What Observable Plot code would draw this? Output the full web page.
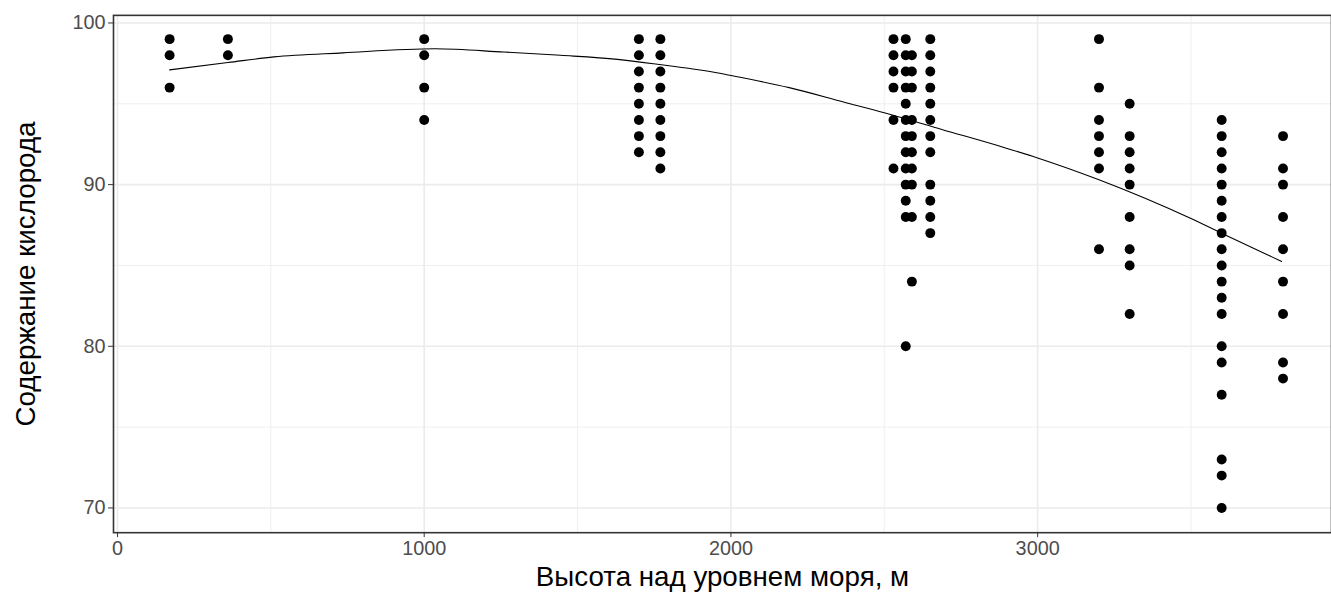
<!DOCTYPE html>
<html>
<head>
<meta charset="utf-8">
<script src="https://cdn.jsdelivr.net/npm/d3@7"></script>
<script src="https://cdn.jsdelivr.net/npm/@observablehq/plot@0.6"></script>
<style>
  html, body { margin: 0; padding: 0; background: #fff; overflow: hidden; }
  #chart svg { display: block; }
</style>
</head>
<body>
<div id="chart"></div>
<script>
// Altitude of each sampling site (m) and oxygen saturation readings there
const altitudes = [170, 360, 1000, 1700, 1770, 2530, 2570, 2590, 2650, 3200, 3300, 3600, 3800];
const oxygenAt170  = [99, 98, 96];
const oxygenAt360  = [99, 98];
const oxygenAt1000 = [99, 98, 96, 94];
const oxygenAt1700 = [99, 98, 97, 96, 95, 94, 93, 92];
const oxygenAt1770 = [99, 98, 97, 96, 95, 94, 93, 92, 91];
const oxygenAt2530 = [99, 98, 97, 96, 94, 91];
const oxygenAt2570 = [99, 98, 97, 96, 95, 94, 93, 92, 91, 90, 89, 88, 80];
const oxygenAt2590 = [98, 97, 96, 94, 93, 92, 91, 90, 88, 84];
const oxygenAt2650 = [99, 98, 97, 96, 95, 94, 93, 92, 90, 89, 88, 87];
const oxygenAt3200 = [99, 96, 94, 93, 92, 91, 86];
const oxygenAt3300 = [95, 93, 92, 91, 90, 88, 86, 85, 82];
const oxygenAt3600 = [94, 93, 92, 91, 90, 89, 88, 87, 86, 85, 84, 83, 82, 80, 79, 77, 73, 72, 70];
const oxygenAt3800 = [93, 91, 90, 88, 86, 84, 82, 79, 78];
const oxygenBySite = [oxygenAt170, oxygenAt360, oxygenAt1000, oxygenAt1700, oxygenAt1770,
  oxygenAt2530, oxygenAt2570, oxygenAt2590, oxygenAt2650, oxygenAt3200, oxygenAt3300,
  oxygenAt3600, oxygenAt3800];

// Smoothed trend line
const fitAltitude = [170, 360, 510, 735, 1035, 1260, 1445, 1630, 1760, 1945, 2000, 2190, 2370, 2500, 2690, 2890, 3000, 3200, 3500, 3610, 3795];
const fitOxygen   = [97.1, 97.55, 97.9, 98.15, 98.4, 98.2, 98.0, 97.75, 97.45, 96.95, 96.75, 96.0, 95.1, 94.45, 93.4, 92.3, 91.65, 90.3, 87.9, 86.9, 85.25];

const xTicks = [0, 1000, 2000, 3000];
const xMinor = [500, 1500, 2500, 3500];
const yTicks = [70, 80, 90, 100];
const yMinor = [75, 85, 95];
const xTitle = "Высота над уровнем моря, м";
const yTitle = "Содержание кислорода";

const points = altitudes.flatMap((a, i) => oxygenBySite[i].map(v => ({altitude: a, oxygen: v})));
const fit = fitAltitude.map((a, i) => ({altitude: a, oxygen: fitOxygen[i]}));

const tickFont = 20;
const titleFont = 28;

const chart = Plot.plot({
  width: 1343,
  height: 614,
  marginLeft: 114,
  marginRight: 0,
  marginTop: 15,
  marginBottom: 77,
  style: {fontFamily: "'Liberation Sans', Arial, sans-serif", background: "#fff"},
  x: {domain: [-13, 3958]},
  y: {domain: [68.47, 100.47]},
  marks: [
    Plot.ruleX(xMinor, {stroke: "#EBEBEB", strokeWidth: 0.8}),
    Plot.ruleY(yMinor, {stroke: "#EBEBEB", strokeWidth: 0.8}),
    Plot.ruleX(xTicks, {stroke: "#EBEBEB", strokeWidth: 1.6}),
    Plot.ruleY(yTicks, {stroke: "#EBEBEB", strokeWidth: 1.6}),
    Plot.line(fit, {x: "altitude", y: "oxygen", stroke: "#000", strokeWidth: 1.1, curve: "monotone-x"}),
    Plot.dot(points, {x: "altitude", y: "oxygen", r: 5, fill: "#000", stroke: "none"}),
    Plot.frame({stroke: "#333", strokeWidth: 1.6}),
    Plot.axisX(xTicks, {tickSize: 5, tickPadding: 3, stroke: "#333", fill: "#4D4D4D", fontSize: tickFont, tickFormat: d3.format("d"), label: null}),
    Plot.axisY(yTicks, {tickSize: 5, tickPadding: 3, stroke: "#333", fill: "#4D4D4D", fontSize: tickFont, tickFormat: d3.format("d"), label: null}),
    Plot.text([xTitle], {frameAnchor: "bottom", dy: 54, fontSize: titleFont, fill: "#000"}),
    Plot.text([yTitle], {frameAnchor: "left", textAnchor: "middle", rotate: -90, dx: -88, fontSize: titleFont, fill: "#000"})
  ]
});
document.getElementById("chart").appendChild(chart);
</script>
</body>
</html>
